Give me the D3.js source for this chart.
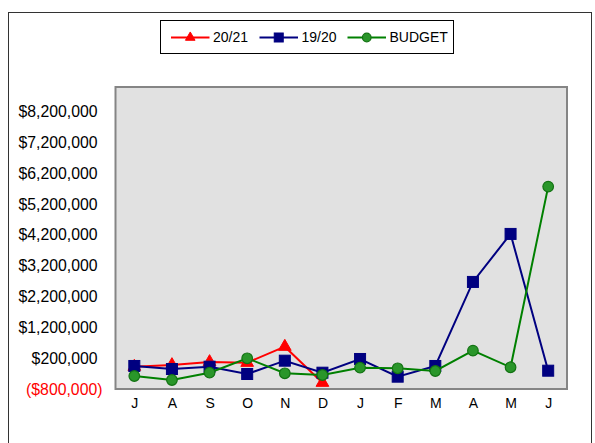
<!DOCTYPE html>
<html>
<head>
<meta charset="utf-8">
<script src="https://cdn.jsdelivr.net/npm/d3@7"></script>
<style>
  html, body { margin: 0; padding: 0; background: #fff; }
  svg { display: block; font-family: "Liberation Sans", Arial, sans-serif; }
</style>
</head>
<body>
<svg id="chart" width="595" height="443"></svg>
<script>
const months = ["J", "A", "S", "O", "N", "D", "J", "F", "M", "A", "M", "J"];
const seriesNames = ["20/21", "19/20", "BUDGET"];
const values2021 = [-76000, -21000, 77000, 54000, 573000, -595000];
const values1920 = [-53000, -151000, -76000, -313000, 119000, -271000, 174000, -400000, -53000, 2674000, 4232000, -206000];
const valuesBudget = [-378000, -508000, -271000, 197000, -290000, -345000, -108000, -128000, -216000, 444000, -95000, 5768000];
const yTicks = [-800000, 200000, 1200000, 2200000, 3200000, 4200000, 5200000, 6200000, 7200000, 8200000];
const yDomain = [-800000, 9000000];

const svg = d3.select("#chart");
const plot = { left: 115.5, right: 567, top: 87, bottom: 389 };

// outer border
svg.append("rect").attr("x", 8.5).attr("y", 12.5).attr("width", 583).attr("height", 445)
  .attr("fill", "#fff").attr("stroke", "#333").attr("stroke-width", 1);

// plot area
svg.append("rect").attr("x", plot.left).attr("y", plot.top)
  .attr("width", plot.right - plot.left).attr("height", plot.bottom - plot.top)
  .attr("fill", "#e1e1e1").attr("stroke", "#858585").attr("stroke-width", 2);

const x = d3.scalePoint().domain(d3.range(months.length)).range([plot.left, plot.right]).padding(0.5);
const y = d3.scaleLinear().domain(yDomain).range([plot.bottom, plot.top]);

const fmt = d => d < 0 ? "($" + d3.format(",")(-d) + ")" : "$" + d3.format(",")(d);

// y axis
const yAxis = svg.append("g").attr("transform", `translate(${plot.left},0)`)
  .call(d3.axisLeft(y).tickValues(yTicks).tickFormat(fmt).tickSize(0).tickPadding(13));
yAxis.select(".domain").remove();
yAxis.selectAll("text")
  .attr("font-size", "15.8px")
  .attr("font-family", "'Liberation Sans', Arial, sans-serif")
  .attr("fill", d => d < 0 ? "#ff0000" : "#000")
  .attr("dx", d => d < 0 ? 0 : -5);

// x axis
const xAxis = svg.append("g").attr("transform", `translate(0,${plot.bottom})`)
  .call(d3.axisBottom(x).tickFormat(i => months[i]).tickSize(0).tickPadding(9));
xAxis.select(".domain").remove();
xAxis.selectAll("text")
  .attr("font-size", "14px")
  .attr("font-family", "'Liberation Sans', Arial, sans-serif")
  .attr("fill", "#000");

const series = [
  { name: seriesNames[0], values: values2021, color: "#ff0000", marker: "triangle", fill: "#ff0000", stroke: "#ff0000" },
  { name: seriesNames[1], values: values1920, color: "#000080", marker: "square", fill: "#000080", stroke: "#000080" },
  { name: seriesNames[2], values: valuesBudget, color: "#008000", marker: "circle", fill: "#2a962a", stroke: "#137313" }
];

const line = d3.line().x((d, i) => x(i)).y(d => y(d));

function drawMarker(g, type, cx, cy, s) {
  if (type === "triangle") {
    g.append("path").attr("d", d3.symbol().type(d3.symbolTriangle).size(s.size || 60)())
      .attr("transform", `translate(${cx},${cy})`).attr("fill", s.fill).attr("stroke", s.stroke).attr("stroke-width", 1);
  } else if (type === "square") {
    const w = s.w || 11;
    g.append("rect").attr("x", cx - w / 2).attr("y", cy - w / 2).attr("width", w).attr("height", w)
      .attr("fill", s.fill).attr("stroke", s.stroke).attr("stroke-width", 1);
  } else {
    g.append("circle").attr("cx", cx).attr("cy", cy).attr("r", s.r || 5.3)
      .attr("fill", s.fill).attr("stroke", s.stroke).attr("stroke-width", 1.2);
  }
}

series.forEach(s => {
  const g = svg.append("g");
  g.append("path").datum(s.values).attr("d", line).attr("fill", "none")
    .attr("stroke", s.color).attr("stroke-width", 2);
  s.values.forEach((v, i) => drawMarker(g, s.marker, x(i), y(v), { fill: s.fill, stroke: s.stroke, size: 70 }));
});

// legend
const lg = svg.append("g");
lg.append("rect").attr("x", 160.5).attr("y", 20.5).attr("width", 293).attr("height", 33)
  .attr("fill", "#fff").attr("stroke", "#000").attr("stroke-width", 1);
const legendX = [171, 259.5, 347.5];
series.forEach((s, k) => {
  const lx = legendX[k], ly = 37.5;
  lg.append("line").attr("x1", lx).attr("x2", lx + 38.5).attr("y1", ly).attr("y2", ly)
    .attr("stroke", s.color).attr("stroke-width", 2);
  drawMarker(lg, s.marker, lx + 19.25, ly, { fill: s.fill, stroke: s.stroke, size: 40, w: 9, r: 4.3 });
  lg.append("text").attr("x", lx + 42).attr("y", ly).attr("dy", "0.35em")
    .attr("font-size", "14px").attr("fill", "#000").text(s.name);
});
</script>
</body>
</html>
